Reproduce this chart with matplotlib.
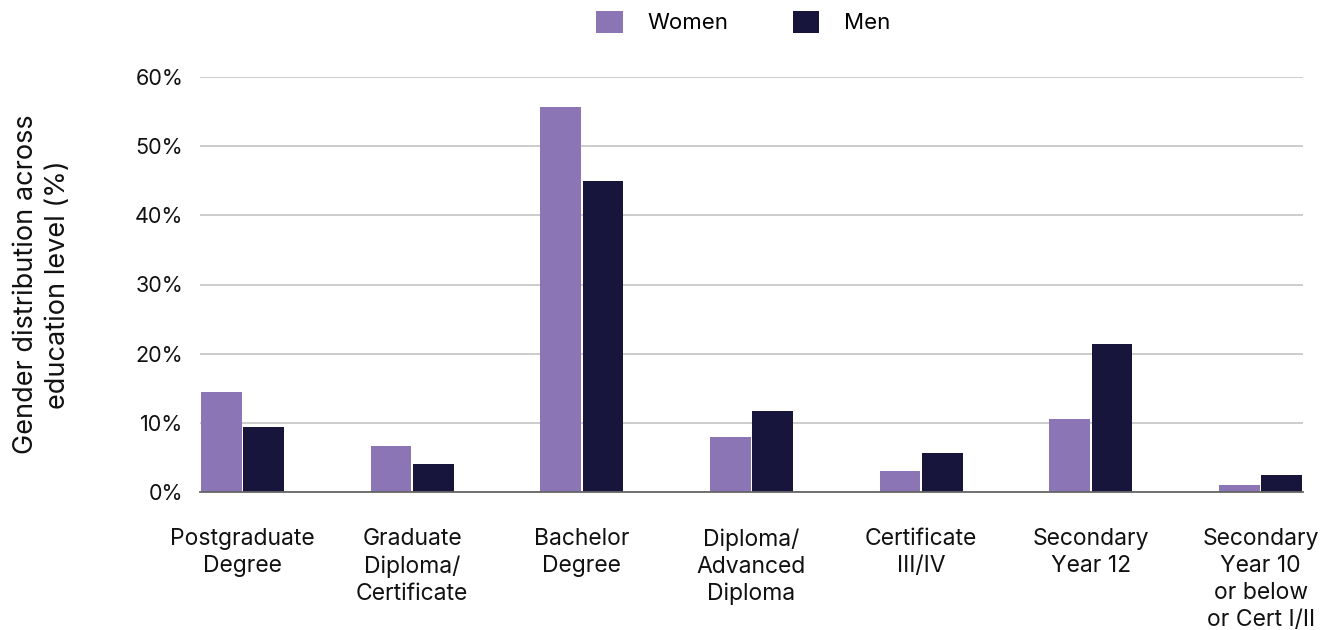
import numpy as np
import matplotlib.pyplot as plt

plt.rcParams['font.family'] = ['Inter', 'DejaVu Sans']

categories = ['Postgraduate\nDegree', 'Graduate\nDiploma/\nCertificate', 'Bachelor\nDegree',
              'Diploma/\nAdvanced\nDiploma', 'Certificate\nIII/IV', 'Secondary\nYear 12',
              'Secondary\nYear 10\nor below\nor Cert I/II']
women = [14.4, 6.6, 55.7, 8.0, 3.05, 10.5, 0.95]
men = [9.35, 4.1, 44.9, 11.65, 5.6, 21.35, 2.45]
yticks = [0, 10, 20, 30, 40, 50, 60]

c_women = '#8b75b5'
c_men = '#17153b'

fig = plt.figure(figsize=(13.35, 6.3), dpi=100)
ax = fig.add_axes([200/1335, 1-492/630, 1103/1335, 415/630])

x = np.arange(len(categories))
w = 0.24
off = 0.125
ax.bar(x - off, women, w, color=c_women, label='Women', zorder=3)
ax.bar(x + off, men, w, color=c_men, label='Men', zorder=3)

ax.set_xlim(-0.25, 6.25)
ax.set_ylim(0, 60)
ax.set_yticks(yticks)
ax.set_yticklabels([f'{t}%' for t in yticks], fontsize=15.5, color='#111111')
ax.yaxis.grid(True, color='#c8c8c8', linewidth=1.3, zorder=0)
ax.tick_params(axis='y', length=0, pad=12)
ax.tick_params(axis='x', length=0, pad=26)
ax.set_xticks(x)
ax.set_xticklabels(categories, fontsize=16.5, color='#111111', linespacing=1.3, va='top')

for s in ['top', 'right', 'left']:
    ax.spines[s].set_visible(False)
ax.spines['bottom'].set_color('#666666')
ax.spines['bottom'].set_linewidth(1.3)
ax.spines['bottom'].set_zorder(4)

ax.set_ylabel('Gender distribution across\neducation level (%)', fontsize=19.5, color='#111111',
              labelpad=46, linespacing=1.32)

leg = fig.legend(loc='center', bbox_to_anchor=(743/1335, 1-22/630), ncol=2, frameon=False,
                 fontsize=16, handlelength=1.2, handleheight=1.2, columnspacing=2.9,
                 handletextpad=1.1)

fig.savefig('out.png', dpi=100)
